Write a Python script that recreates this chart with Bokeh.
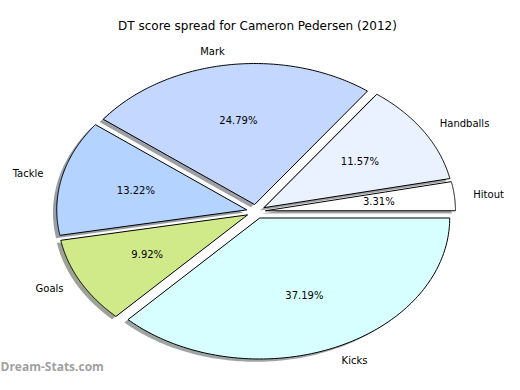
import numpy as np
from bokeh.plotting import figure
from bokeh.models import Range1d, ColumnDataSource
from bokeh.core.properties import value
from bokeh.embed import file_html
from bokeh.resources import INLINE

title = "DT score spread for Cameron Pedersen (2012)"
labels = ["Hitout", "Handballs", "Mark", "Tackle", "Goals", "Kicks"]
percents = [3.31, 11.57, 24.79, 13.22, 9.92, 37.19]
colors = ["#ffffff", "#eaf2ff", "#c4d8ff", "#b4d4ff", "#d0ea8a", "#d8ffff"]
watermark = "Dream-Stats.com"

W, H = 504, 374
x0 = 4
p = figure(width=W, height=H, output_backend="svg", toolbar_location=None,
           x_range=Range1d(x0, x0 + W), y_range=Range1d(16, 390), min_border=0)
p.axis.visible = False
p.grid.visible = False
p.outline_line_color = None
p.background_fill_color = "white"
p.border_fill_color = "white"

# pie geometry (in page pixels, y up)
cx, cy = 259.5, 179.0
rx, ry = 190.0, 141.0
explode = 0.05
shadow_off = -0.02

def hex2rgb(h):
    h = h.lstrip("#")
    return [int(h[i:i + 2], 16) for i in (0, 2, 4)]

total = sum(percents)
start = 0.0
lab_x, lab_y, lab_t, lab_align = [], [], [], []
pct_x, pct_y, pct_t = [], [], []
for lab, v, col in zip(labels, percents, colors):
    a1 = start
    a2 = start + 360.0 * v / total
    start = a2
    mid = np.radians((a1 + a2) / 2)
    ox = cx + explode * rx * np.cos(mid)
    oy = cy + explode * ry * np.sin(mid)
    th = np.radians(np.linspace(a1, a2, 120))
    xs = np.concatenate([[ox], ox + rx * np.cos(th), [ox]])
    ys = np.concatenate([[oy], oy + ry * np.sin(th), [oy]])
    r, g, b = hex2rgb(col)
    sc = "#%02x%02x%02x" % (int(r * 0.3), int(g * 0.3), int(b * 0.3))
    p.patch(xs + shadow_off * rx, ys + shadow_off * ry, fill_color=sc,
            fill_alpha=0.5, line_alpha=0)
    p.patch(xs, ys, fill_color=col, line_color="black", line_width=1)
    lab_x.append(ox + 1.1 * rx * np.cos(mid))
    lab_y.append(oy + 1.1 * ry * np.sin(mid))
    lab_t.append(lab)
    lab_align.append("left" if np.cos(mid) > 0 else "right")
    pct_x.append(ox + 0.6 * rx * np.cos(mid))
    pct_y.append(oy + 0.6 * ry * np.sin(mid))
    pct_t.append("%.2f%%" % v)

src = ColumnDataSource(dict(x=lab_x, y=lab_y, t=lab_t, a=lab_align))
p.text("x", "y", text="t", text_align="a", source=src, text_baseline="middle",
       text_font=value("DejaVu Sans"), text_font_size="10px", text_color="black")
src2 = ColumnDataSource(dict(x=pct_x, y=pct_y, t=pct_t))
p.text("x", "y", text="t", source=src2, text_align="center", text_baseline="middle",
       text_font=value("DejaVu Sans"), text_font_size="10px", text_color="black")

p.text(x=[261], y=[364.5], text=[title], text_align="center", text_baseline="middle",
       text_font=value("DejaVu Sans"), text_font_size="12px", text_color="black")
p.text(x=[x0], y=[24], text=[watermark], text_align="left", text_baseline="middle",
       text_font=value("Open Sans"), text_font_size="12px", text_font_style="bold",
       text_color="#a0a0a0")

open("out.html", "w").write(file_html(p, INLINE))
